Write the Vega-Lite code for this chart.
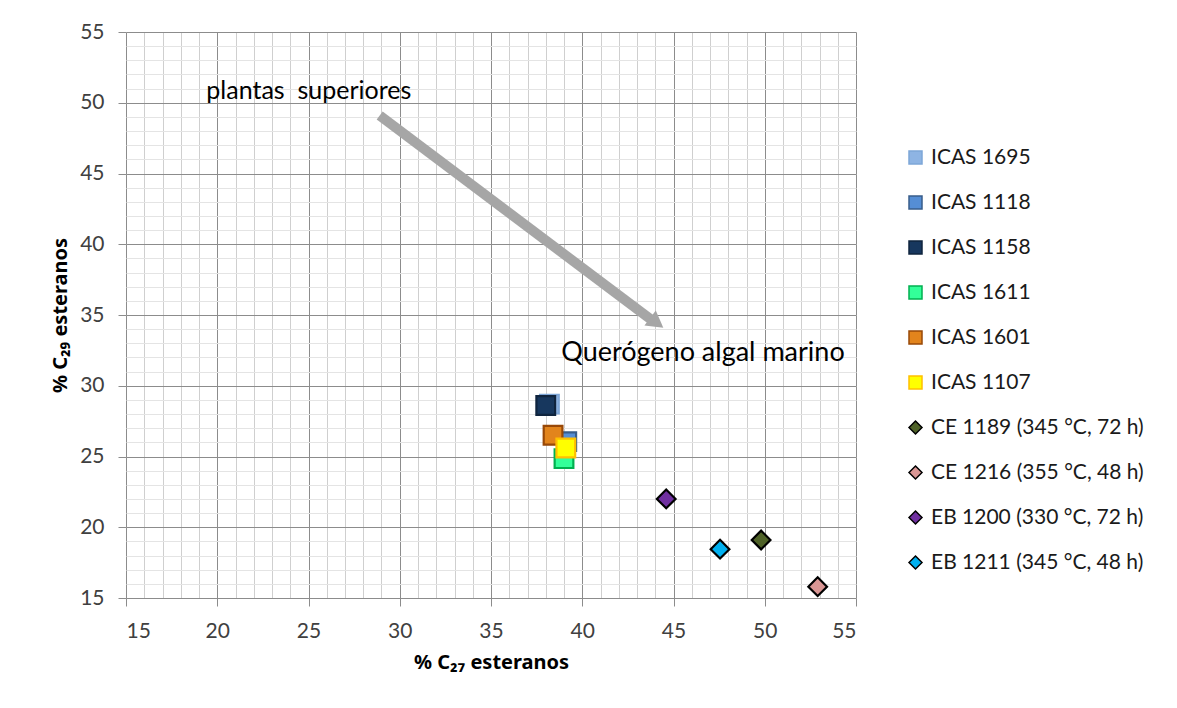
{
  "$schema": "https://vega.github.io/schema/vega-lite/v6.json",
  "autosize": "none",
  "width": 730,
  "height": 566,
  "padding": {"left": 126, "top": 32, "right": 321, "bottom": 110},
  "background": "white",
  "config": {
    "view": {"stroke": null},
    "font": "Lato",
    "axis": {"labelFont": "Lato", "titleFont": "Noto Sans"}
  },
  "datasets": {
    "pts": [
      {"serie": "ICAS 1695", "c27": 38.2, "c29": 28.7},
      {"serie": "ICAS 1118", "c27": 39.15, "c29": 26.05},
      {"serie": "ICAS 1158", "c27": 38.0, "c29": 28.6},
      {"serie": "ICAS 1611", "c27": 39.0, "c29": 24.85},
      {"serie": "ICAS 1601", "c27": 38.4, "c29": 26.5},
      {"serie": "ICAS 1107", "c27": 39.1, "c29": 25.6},
      {"serie": "CE 1189 (345 °C, 72 h)", "c27": 49.8, "c29": 19.1},
      {"serie": "CE 1216 (355 °C, 48 h)", "c27": 52.9, "c29": 15.8},
      {"serie": "EB 1200 (330 °C, 72 h)", "c27": 44.6, "c29": 22.0},
      {"serie": "EB 1211 (345 °C, 48 h)", "c27": 47.55, "c29": 18.45}
    ],
    "arrow": [
      {"x": 28.9, "y": 49.1},
      {"x": 43.95, "y": 34.5}
    ],
    "head": [
      {"x": 44.08, "y": 34.44}
    ],
    "t1": [{"x": 19.4, "y": 50.8, "label": "plantas\u00a0 superiores"}],
    "t2": [{"x": 38.85, "y": 32.3, "label": "Querógeno algal marino"}]
  },
  "resolve": {"axis": {"x": "independent", "y": "independent"}},
  "layer": [
    {
      "data": {"name": "arrow"},
      "mark": {"type": "line", "color": "#a6a6a6", "strokeWidth": 10, "strokeCap": "butt"},
      "encoding": {
        "x": {"field": "x", "type": "quantitative", "scale": {"domain": [15, 55], "nice": false, "zero": false},
          "axis": {"orient": "bottom", "title": null, "labels": false, "ticks": false, "domain": false, "grid": true, "gridColor": "#cfcfcf", "gridWidth": 1,
            "values": [15,16,17,18,19,20,21,22,23,24,25,26,27,28,29,30,31,32,33,34,35,36,37,38,39,40,41,42,43,44,45,46,47,48,49,50,51,52,53,54,55]}},
        "y": {"field": "y", "type": "quantitative", "scale": {"domain": [15, 55], "nice": false, "zero": false},
          "axis": {"orient": "left", "title": null, "labels": false, "ticks": false, "domain": false, "grid": true, "gridColor": "#e4e4e4", "gridWidth": 1,
            "values": [15,16,17,18,19,20,21,22,23,24,25,26,27,28,29,30,31,32,33,34,35,36,37,38,39,40,41,42,43,44,45,46,47,48,49,50,51,52,53,54,55]}}
      }
    },
    {
      "data": {"name": "head"},
      "mark": {"type": "point", "shape": "triangle-up", "filled": true, "color": "#a6a6a6", "opacity": 1, "size": 360, "angle": 126.7},
      "encoding": {
        "x": {"field": "x", "type": "quantitative", "scale": {"domain": [15, 55], "nice": false, "zero": false}, "axis": null},
        "y": {"field": "y", "type": "quantitative", "scale": {"domain": [15, 55], "nice": false, "zero": false}, "axis": null}
      }
    },
    {
      "data": {"name": "t1"},
      "mark": {"type": "text", "align": "left", "baseline": "middle", "fontSize": 25, "font": "Lato", "color": "#000000"},
      "encoding": {
        "x": {"field": "x", "type": "quantitative", "scale": {"domain": [15, 55], "nice": false, "zero": false}, "axis": null},
        "y": {"field": "y", "type": "quantitative", "scale": {"domain": [15, 55], "nice": false, "zero": false}, "axis": null},
        "text": {"field": "label"}
      }
    },
    {
      "data": {"name": "t2"},
      "mark": {"type": "text", "align": "left", "baseline": "middle", "fontSize": 27, "font": "Lato", "color": "#000000"},
      "encoding": {
        "x": {"field": "x", "type": "quantitative", "scale": {"domain": [15, 55], "nice": false, "zero": false}, "axis": null},
        "y": {"field": "y", "type": "quantitative", "scale": {"domain": [15, 55], "nice": false, "zero": false}, "axis": null},
        "text": {"field": "label"}
      }
    },
    {
      "data": {"name": "pts"},
      "mark": {"type": "point", "filled": true, "opacity": 1, "size": 350, "strokeWidth": 2.2},
      "encoding": {
        "x": {"field": "c27", "type": "quantitative", "scale": {"domain": [15, 55], "nice": false, "zero": false},
          "axis": {"orient": "bottom", "title": "% C₂₇ esteranos", "titleFontSize": 20, "titleFontWeight": "bold", "titleColor": "#000000", "titlePadding": 11,
            "values": [15, 20, 25, 30, 35, 40, 45, 50, 55], "grid": true, "gridColor": "#8c8c8c", "gridWidth": 1,
            "ticks": true, "tickColor": "#8c8c8c", "tickSize": 8, "domain": false,
            "labelFontSize": 21, "labelColor": "#404040", "labelPadding": 14}},
        "y": {"field": "c29", "type": "quantitative", "scale": {"domain": [15, 55], "nice": false, "zero": false},
          "axis": {"orient": "left", "title": "% C₂₉ esteranos", "titleFontSize": 20, "titleFontWeight": "bold", "titleColor": "#000000", "titlePadding": 9,
            "values": [15, 20, 25, 30, 35, 40, 45, 50, 55], "grid": true, "gridColor": "#8c8c8c", "gridWidth": 1,
            "ticks": true, "tickColor": "#8c8c8c", "tickSize": 8, "domain": false,
            "labelFontSize": 21, "labelColor": "#404040", "labelPadding": 14}},
        "fill": {"field": "serie", "type": "nominal",
          "scale": {"domain": ["ICAS 1695", "ICAS 1118", "ICAS 1158", "ICAS 1611", "ICAS 1601", "ICAS 1107", "CE 1189 (345 °C, 72 h)", "CE 1216 (355 °C, 48 h)", "EB 1200 (330 °C, 72 h)", "EB 1211 (345 °C, 48 h)"],
            "range": ["#8EB4E3", "#558ED5", "#17375E", "#33FF99", "#E2841C", "#FFFF00", "#4F6228", "#D99694", "#7030A0", "#00B0F0"]},
          "legend": {"title": null, "orient": "none", "legendX": 779, "legendY": 115, "padding": 0,
            "labelFont": "Lato", "labelFontSize": 21, "labelColor": "#1a1a1a", "labelOffset": 5, "labelLimit": 400,
            "symbolSize": 169, "symbolStrokeWidth": 1.5, "rowPadding": 23, "symbolOpacity": 1}},
        "stroke": {"field": "serie", "type": "nominal",
          "scale": {"domain": ["ICAS 1695", "ICAS 1118", "ICAS 1158", "ICAS 1611", "ICAS 1601", "ICAS 1107", "CE 1189 (345 °C, 72 h)", "CE 1216 (355 °C, 48 h)", "EB 1200 (330 °C, 72 h)", "EB 1211 (345 °C, 48 h)"],
            "range": ["#7EA6D8", "#385D8A", "#0F243E", "#00B050", "#984807", "#FFC000", "#000000", "#000000", "#000000", "#000000"]},
          "legend": {"title": null, "orient": "none", "legendX": 779, "legendY": 115, "padding": 0,
            "labelFont": "Lato", "labelFontSize": 21, "labelColor": "#1a1a1a", "labelOffset": 5, "labelLimit": 400,
            "symbolSize": 169, "symbolStrokeWidth": 1.5, "rowPadding": 23, "symbolOpacity": 1}},
        "shape": {"field": "serie", "type": "nominal",
          "scale": {"domain": ["ICAS 1695", "ICAS 1118", "ICAS 1158", "ICAS 1611", "ICAS 1601", "ICAS 1107", "CE 1189 (345 °C, 72 h)", "CE 1216 (355 °C, 48 h)", "EB 1200 (330 °C, 72 h)", "EB 1211 (345 °C, 48 h)"],
            "range": ["square", "square", "square", "square", "square", "square", "diamond", "diamond", "diamond", "diamond"]},
          "legend": {"title": null, "orient": "none", "legendX": 779, "legendY": 115, "padding": 0,
            "labelFont": "Lato", "labelFontSize": 21, "labelColor": "#1a1a1a", "labelOffset": 5, "labelLimit": 400,
            "symbolSize": 169, "symbolStrokeWidth": 1.5, "rowPadding": 23, "symbolOpacity": 1}}
      }
    }
  ]
}
